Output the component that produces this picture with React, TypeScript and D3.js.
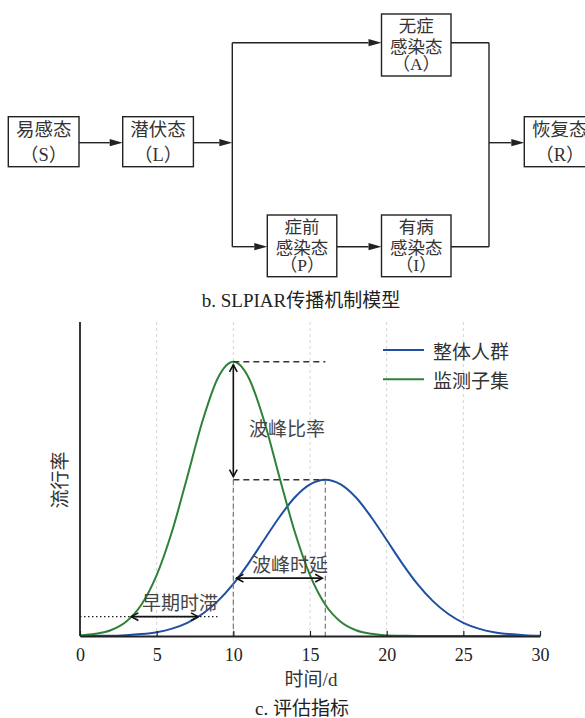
import React, { useEffect, useRef } from "react";
import * as d3 from "d3";

// Time axis (days) and prevalence for the two groups
const days = [0, 1, 2, 3, 4, 5, 6, 7, 8, 9, 10, 11, 12, 13, 14, 15, 16, 17, 18, 19, 20, 21, 22, 23, 24, 25, 26, 27, 28, 29, 30];
const overallPopulation = [0.0, 0.001, 0.001, 0.003, 0.007, 0.014, 0.027, 0.048, 0.081, 0.128, 0.19, 0.266, 0.35, 0.433, 0.505, 0.553, 0.57, 0.553, 0.505, 0.433, 0.35, 0.266, 0.19, 0.128, 0.081, 0.048, 0.027, 0.014, 0.007, 0.003, 0.001];
const monitoredSubset = [0.002, 0.008, 0.021, 0.052, 0.114, 0.222, 0.381, 0.581, 0.786, 0.942, 1.0, 0.942, 0.786, 0.581, 0.381, 0.222, 0.114, 0.052, 0.021, 0.008, 0.002, 0.001, 0, 0, 0, 0, 0, 0, 0, 0, 0];
const seriesNames = ["整体人群", "监测子集"];
const xTicks = [0, 5, 10, 15, 20, 25, 30];

// Evaluation indicators: [day, value]
const subsetPeak = [10, 1.0];
const overallPeak = [16, 0.57];
const earlyLag = [3.35, 7.7, 0.0705]; // from, to, level
const earlyLagGuideEnd = 9.1;
const peakDelay = [10.2, 15.8, 0.211]; // from, to, level

const FONT = "'Liberation Serif', 'Noto Sans CJK SC', serif";
const CJK = "'Noto Sans CJK SC', 'Liberation Serif', sans-serif";

type Node = { x: number; y: number; w: number; h: number; lines: string[]; dy: number[] };

// Transmission model states
const nodes: Node[] = [
  { x: 8.3, y: 116.7, w: 70.7, h: 50, lines: ["易感态", "（S）"], dy: [13.5, 38.5] },
  { x: 122.7, y: 116.7, w: 70.7, h: 50, lines: ["潜伏态", "（L）"], dy: [13.5, 38.5] },
  { x: 381.5, y: 14, w: 69.5, h: 62, lines: ["无症", "感染态", "（A）"], dy: [11.5, 32.5, 49.5] },
  { x: 267.3, y: 215, w: 69.5, h: 61.7, lines: ["症前", "感染态", "（P）"], dy: [11.5, 32.5, 49.5] },
  { x: 381.5, y: 215, w: 69.5, h: 61.7, lines: ["有病", "感染态", "（I）"], dy: [11.5, 32.5, 49.5] },
  { x: 524.3, y: 116.7, w: 71, h: 50, lines: ["恢复态", "（R）"], dy: [13.5, 38.5] },
];

// [x1, y1, x2, y2, hasArrowHead]
const links: [number, number, number, number, boolean][] = [
  [79, 142.7, 122.7, 142.7, true],
  [193.4, 142.7, 232.3, 142.7, true],
  [232.3, 42.7, 232.3, 246.7, false],
  [232.3, 42.7, 381.5, 42.7, true],
  [232.3, 246.7, 267.3, 246.7, true],
  [336.8, 246.7, 381.5, 246.7, true],
  [451, 42.7, 489, 42.7, false],
  [451, 246.7, 489, 246.7, false],
  [489, 42.7, 489, 246.7, false],
  [489, 142.7, 524.3, 142.7, true],
];

const x = d3.scaleLinear().domain([0, 30]).range([80, 540]);
const y = d3.scaleLinear().domain([0, 1.145]).range([636, 322]);

const line = d3
  .line<number>()
  .x((_, i) => x(days[i]))
  .y((d) => y(d))
  .curve(d3.curveMonotoneX);

function ChevronArrow({ x1, y1, x2, y2 }: { x1: number; y1: number; x2: number; y2: number }) {
  const ang = Math.atan2(y2 - y1, x2 - x1);
  const L = 8;
  const spread = 0.5;
  const head = (px: number, py: number, a: number) => {
    const p1 = [px - L * Math.cos(a - spread), py - L * Math.sin(a - spread)];
    const p2 = [px - L * Math.cos(a + spread), py - L * Math.sin(a + spread)];
    return `M${p1[0]},${p1[1]}L${px},${py}L${p2[0]},${p2[1]}`;
  };
  return (
    <g stroke="#111" strokeWidth={1.6} fill="none">
      <line x1={x1} y1={y1} x2={x2} y2={y2} />
      <path d={head(x2, y2, ang)} />
      <path d={head(x1, y1, ang + Math.PI)} />
    </g>
  );
}

export default function App() {
  const axisRef = useRef<SVGGElement>(null);

  useEffect(() => {
    if (!axisRef.current) return;
    const g = d3.select(axisRef.current);
    g.selectAll("*").remove();
    g.call(
      d3
        .axisBottom(x)
        .tickValues(xTicks)
        .tickSizeInner(-5)
        .tickSizeOuter(0)
        .tickPadding(12)
    );
    g.select(".domain").attr("stroke", "#222").attr("stroke-width", 1.8);
    g.selectAll(".tick line").attr("stroke", "#222").attr("stroke-width", 1.2);
    g.selectAll(".tick text")
      .attr("font-family", FONT)
      .attr("font-size", 18)
      .attr("fill", "#222");
  }, []);

  return (
    <svg
      width={585}
      height={718}
      style={{ position: "absolute", left: 0, top: 0, background: "#fff" }}
    >
      <rect width={585} height={718} fill="#fff" />

      {/* Transmission diagram */}
      <g>
        {links.map(([x1, y1, x2, y2, arrow], i) => {
          const headLen = 13;
          const ex = arrow ? x2 - headLen : x2;
          return (
            <g key={i}>
              <line x1={x1} y1={y1} x2={ex} y2={y2} stroke="#222" strokeWidth={1.4} />
              {arrow && (
                <path
                  d={`M${x2},${y2}L${x2 - headLen},${y2 - 3.6}L${x2 - headLen},${y2 + 3.6}Z`}
                  fill="#222"
                />
              )}
            </g>
          );
        })}
        {nodes.map((n, i) => (
          <g key={i}>
            <rect x={n.x} y={n.y} width={n.w} height={n.h} fill="#fff" stroke="#222" strokeWidth={1.4} />
            {n.lines.map((t, j) => (
              <text
                key={j}
                x={n.x + n.w / 2}
                y={n.y + n.dy[j]}
                textAnchor="middle"
                dominantBaseline="central"
                fontFamily={FONT}
                fontSize={n.lines.length === 3 ? 17.5 : 18.5}
                fill="#333"
              >
                {t}
              </text>
            ))}
          </g>
        ))}
        <text x={301} y={300} textAnchor="middle" dominantBaseline="central" fontFamily={FONT} fontSize={19} fill="#222">
          b. SLPIAR传播机制模型
        </text>
      </g>

      {/* Grid */}
      <g>
        {xTicks
          .filter((t) => t > 0 && t < 30)
          .map((t) => (
            <line key={t} x1={x(t)} x2={x(t)} y1={y(1.145)} y2={y(0)} stroke="#d4d4d4" strokeWidth={1} strokeDasharray="3,3" />
          ))}
      </g>

      {/* Curves */}
      <path d={line(overallPopulation) || ""} fill="none" stroke="#1f4fa3" strokeWidth={2} />
      <path d={line(monitoredSubset) || ""} fill="none" stroke="#2f8038" strokeWidth={2} />

      {/* Peak ratio guides */}
      <line x1={x(subsetPeak[0])} x2={x(overallPeak[0])} y1={y(subsetPeak[1])} y2={y(subsetPeak[1])} stroke="#333" strokeWidth={1.5} strokeDasharray="6,4" />
      <line x1={x(subsetPeak[0])} x2={x(overallPeak[0])} y1={y(overallPeak[1])} y2={y(overallPeak[1])} stroke="#333" strokeWidth={1.5} strokeDasharray="6,4" />
      <line x1={x(subsetPeak[0])} x2={x(subsetPeak[0])} y1={y(overallPeak[1])} y2={y(0)} stroke="#777" strokeWidth={1.2} strokeDasharray="5,3" />
      <line x1={x(overallPeak[0])} x2={x(overallPeak[0])} y1={y(overallPeak[1])} y2={y(0)} stroke="#777" strokeWidth={1.2} strokeDasharray="5,3" />
      <ChevronArrow x1={x(subsetPeak[0])} y1={y(subsetPeak[1]) + 3} x2={x(subsetPeak[0])} y2={y(overallPeak[1]) - 3} />
      <text x={287} y={427} textAnchor="middle" dominantBaseline="central" fontFamily={CJK} fontSize={19} fill="#444">
        波峰比率
      </text>

      {/* Peak delay */}
      <ChevronArrow x1={x(peakDelay[0])} y1={y(peakDelay[2])} x2={x(peakDelay[1])} y2={y(peakDelay[2])} />
      <text x={290} y={563} textAnchor="middle" dominantBaseline="central" fontFamily={CJK} fontSize={19} fill="#444">
        波峰时延
      </text>

      {/* Early lag */}
      <line x1={x(0)} x2={x(earlyLagGuideEnd)} y1={y(earlyLag[2])} y2={y(earlyLag[2])} stroke="#222" strokeWidth={1.2} strokeDasharray="1.5,2.5" />
      <ChevronArrow x1={x(earlyLag[0])} y1={y(earlyLag[2])} x2={x(earlyLag[1])} y2={y(earlyLag[2])} />
      <text x={180} y={601} textAnchor="middle" dominantBaseline="central" fontFamily={CJK} fontSize={19} fill="#444">
        早期时滞
      </text>

      {/* Axes */}
      <line x1={x(0)} x2={x(0)} y1={y(1.145)} y2={y(0)} stroke="#222" strokeWidth={1.8} />
      <g ref={axisRef} transform={`translate(0,${y(0)})`} />

      <text x={311} y={679} textAnchor="middle" dominantBaseline="central" fontFamily={FONT} fontSize={19} fill="#333">
        时间/d
      </text>
      <text
        transform={`translate(60,480) rotate(-90)`}
        textAnchor="middle"
        dominantBaseline="central"
        fontFamily={FONT}
        fontSize={19}
        fill="#333"
      >
        流行率
      </text>
      <text x={302} y={708} textAnchor="middle" dominantBaseline="central" fontFamily={FONT} fontSize={19} fill="#222">
        c. 评估指标
      </text>

      {/* Legend */}
      {seriesNames.map((name, i) => (
        <g key={name} transform={`translate(0,${350 + i * 29.3})`}>
          <line x1={383} x2={424} y1={0} y2={0} stroke={i === 0 ? "#1f4fa3" : "#2f8038"} strokeWidth={2} />
          <text x={433} y={0} dominantBaseline="central" fontFamily={CJK} fontSize={19} fill="#333">
            {name}
          </text>
        </g>
      ))}
    </svg>
  );
}
